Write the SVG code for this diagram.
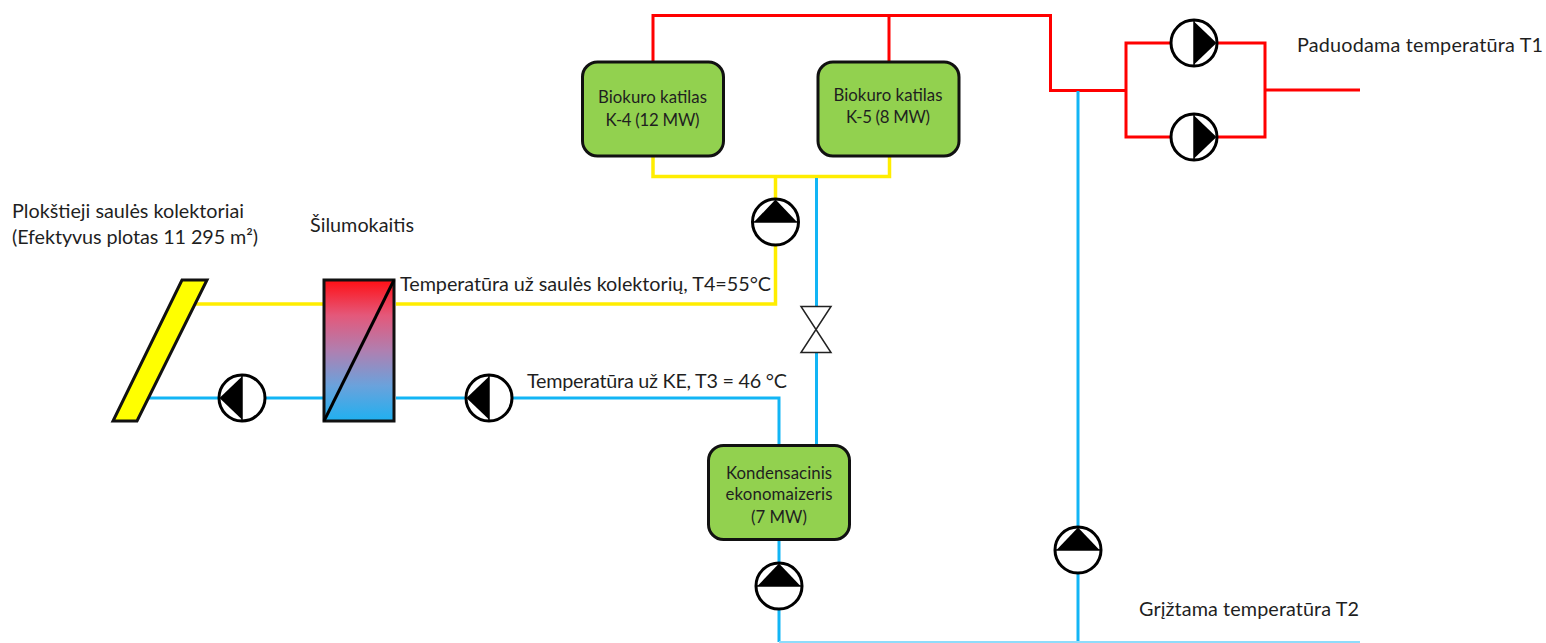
<svg xmlns="http://www.w3.org/2000/svg" width="1546" height="643" viewBox="0 0 1546 643">
<style>
text{font-family:"Lato","Open Sans","Liberation Sans",sans-serif;fill:#1f1f1f}
.lb{font-size:19.8px}
.nd{font-size:16.8px;text-anchor:middle}
.r,.y,.b{fill:none;stroke-linejoin:miter}
.r{stroke:#ff0000;stroke-width:3}
.y{stroke:#ffed00;stroke-width:3.5}
.b{stroke:#12b5f5;stroke-width:3}
.box{fill:#92d14f;stroke:#111;stroke-width:3}
.pc{fill:#fff;stroke:#000;stroke-width:3}
.pt{fill:#000;stroke:none}
</style>
<defs>
<linearGradient id="hx" x1="0" y1="0" x2="0" y2="1"><stop offset="0" stop-color="#ff0f14"/><stop offset="0.25" stop-color="#e4587a"/><stop offset="0.5" stop-color="#b07fb0"/><stop offset="0.75" stop-color="#6aa2dc"/><stop offset="1" stop-color="#1fb0f0"/></linearGradient>
<g id="pump-up"><circle class="pc" r="23"/><path class="pt" d="M0 -22.500L21.500 0H-21.500Z"/><path d="M-23 0H23" stroke="#000" stroke-width="1.500"/></g>
<g id="pump-left"><circle class="pc" r="23"/><path class="pt" d="M-22.500 0L0 -21.500V21.500Z"/><path d="M0 -23V23" stroke="#000" stroke-width="1.500"/></g>
<g id="pump-right"><circle class="pc" r="23"/><path class="pt" d="M22.500 0L0 -21.500V21.500Z"/><path d="M0 -23V23" stroke="#000" stroke-width="1.500"/></g>
</defs>
<g id="connectors">
<path class="r" d="M653 62V15.500H889M889 62V15.500H1050.500V90.500H1126"/>
<path class="r" d="M1171 43H1126V137H1171M1217 43H1265V137H1217M1265 90H1360"/>
<path class="y" d="M653 156V176.500H889.500V156"/>
<path class="y" d="M775.500 176.500V199M775.500 245V304H396"/>
<path class="y" d="M195 304H323"/>
<path class="b" d="M816.500 178V306M816.500 352V445"/>
<path class="b" d="M1078 91V527M1078 572V642"/>
<path class="b" d="M148 398H219M265 398H323M396 398H466M512 398H779V445"/>
<path class="b" d="M779 539V563M779 609V642"/>
<path d="M779 642H1360" fill="none" stroke="#8fdcfb" stroke-width="2"/>
</g>
<g id="collector"><polygon points="182,280 207,280 137,421 113,421" fill="#ffff00" stroke="#111" stroke-width="3"/></g>
<g id="heat-exchanger"><rect x="324" y="280" width="70" height="141" fill="url(#hx)" stroke="#111" stroke-width="3"/><path d="M324 421L394 280" stroke="#000" stroke-width="3"/></g>
<g id="valve"><path d="M801 306.500H831L801 352.500H831Z" fill="#fff" stroke="#222" stroke-width="1.500"/></g>
<g id="boiler-k4"><rect class="box" x="582.500" y="62" width="141" height="94" rx="15"/><text class="nd" x="652.500" y="103" textLength="109">Biokuro katilas</text><text class="nd" x="664.500" y="126" text-anchor="middle" textLength="94" dx="-12">K-4 (12 MW)</text></g>
<g id="boiler-k5"><rect class="box" x="818" y="62" width="141" height="94" rx="15"/><text class="nd" x="888" y="101" textLength="109">Biokuro katilas</text><text class="nd" x="888" y="123" textLength="84">K-5 (8 MW)</text></g>
<g id="economizer"><rect class="box" x="708.500" y="445.500" width="141" height="94" rx="15"/><text class="nd" x="779" y="479" textLength="106">Kondensacinis</text><text class="nd" x="779" y="500" textLength="107">ekonomaizeris</text><text class="nd" x="779" y="523" textLength="56">(7 MW)</text></g>
<g id="pump-1"><use href="#pump-left" x="242" y="398"/></g>
<g id="pump-2"><use href="#pump-left" x="489" y="398"/></g>
<g id="pump-3"><use href="#pump-up" x="775.500" y="222"/></g>
<g id="pump-4"><use href="#pump-up" x="779" y="586"/></g>
<g id="pump-5"><use href="#pump-up" x="1078" y="550"/></g>
<g id="pump-6"><use href="#pump-right" x="1194" y="43"/></g>
<g id="pump-7"><use href="#pump-right" x="1194" y="137"/></g>
<g id="labels">
<text class="lb" x="12" y="218" textLength="232">Plokštieji saulės kolektoriai</text>
<text class="lb" x="12" y="244" textLength="246">(Efektyvus plotas 11 295 m²)</text>
<text class="lb" x="310" y="232" textLength="104">Šilumokaitis</text>
<text class="lb" x="400" y="291" textLength="371">Temperatūra už saulės kolektorių, T4=55°C</text>
<text class="lb" x="527" y="388" textLength="260">Temperatūra už KE, T3 = 46 °C</text>
<text class="lb" x="1297" y="52" textLength="246">Paduodama temperatūra T1</text>
<text class="lb" x="1139" y="616" textLength="220">Grįžtama temperatūra T2</text>
</g>
</svg>
